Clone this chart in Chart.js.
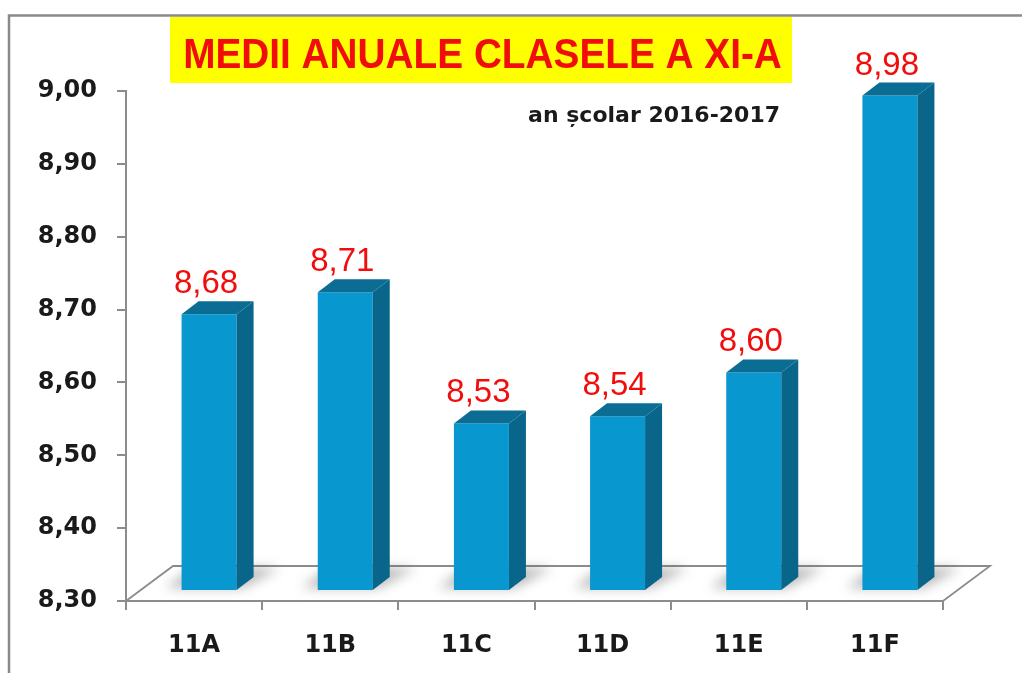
<!DOCTYPE html>
<html>
<head>
<meta charset="utf-8">
<script src="https://cdn.jsdelivr.net/npm/chart.js@4.4.1/dist/chart.umd.min.js"></script>
<style>
  html, body { margin: 0; padding: 0; background: #ffffff; }
  #wrap { width: 1022px; height: 673px; position: relative; }
</style>
</head>
<body>
<div id="wrap"><canvas id="c" width="1022" height="673"></canvas></div>
<script>
// ---- data ----
const categories = ['11A', '11B', '11C', '11D', '11E', '11F'];
const averages = [8.68, 8.71, 8.53, 8.54, 8.60, 8.98];
const yTickValues = [8.30, 8.40, 8.50, 8.60, 8.70, 8.80, 8.90, 9.00];
const titleText = 'MEDII ANUALE CLASELE A XI-A';
const subtitleText = 'an școlar 2016-2017';

// ---- styling ----
const AXIS_GRAY = '#8c8c8c';
const FRONT = '#0898cf';
const SIDE = '#09658a';
const TOP = '#0b6d94';
const DX = 15, DY = -10;     // bar front plane offset from the axis plane
const SX = 17, SY = -13;     // bar depth
const FX = 47, FY = -35;     // floor depth

const fmt = v => Number(v).toFixed(2).replace('.', ',');

const threeD = {
  id: 'threeD',
  beforeDatasetsDraw(chart) {
    const ctx = chart.ctx;
    const a = chart.chartArea;
    const xs = chart.scales.x;
    const left = xs.left, right = xs.right, bottom = a.bottom;
    // floor back edges
    ctx.save();
    ctx.strokeStyle = AXIS_GRAY;
    ctx.lineWidth = 1.8;
    ctx.beginPath();
    ctx.moveTo(left, bottom);
    ctx.lineTo(left + FX, bottom + FY);
    ctx.lineTo(right + FX, bottom + FY);
    ctx.lineTo(right, bottom);
    ctx.stroke();
    ctx.restore();
    // soft shadows under bars
    const meta = chart.getDatasetMeta(0);
    ctx.save();
    ctx.filter = 'blur(6px)';
    ctx.fillStyle = 'rgba(80,80,80,0.4)';
    meta.data.forEach(el => {
      const p = el.getProps(['x', 'y', 'base', 'width'], true);
      const l = p.x - p.width / 2 + DX, r = p.x + p.width / 2 + DX, b = p.base + DY;
      ctx.beginPath();
      ctx.moveTo(l - 16, b - 2);
      ctx.lineTo(r + 6, b - 2);
      ctx.lineTo(r + SX + 26, b + SY - 9);
      ctx.lineTo(l + SX - 6, b + SY - 9);
      ctx.closePath();
      ctx.fill();
    });
    ctx.restore();
    // translate so the library's front faces sit in the bar plane
    ctx.save();
    ctx.translate(DX, DY);
  },
  afterDatasetsDraw(chart) {
    const ctx = chart.ctx;
    ctx.restore();
    const meta = chart.getDatasetMeta(0);
    const vals = chart.data.datasets[0].data;
    meta.data.forEach((el, i) => {
      const p = el.getProps(['x', 'y', 'base', 'width'], true);
      const l = p.x - p.width / 2 + DX, r = p.x + p.width / 2 + DX;
      const t = p.y + DY, b = p.base + DY;
      // side
      ctx.fillStyle = SIDE;
      ctx.beginPath();
      ctx.moveTo(r, t); ctx.lineTo(r + SX, t + SY); ctx.lineTo(r + SX, b + SY); ctx.lineTo(r, b);
      ctx.closePath(); ctx.fill();
      // top
      ctx.fillStyle = TOP;
      ctx.beginPath();
      ctx.moveTo(l, t); ctx.lineTo(l + SX, t + SY); ctx.lineTo(r + SX, t + SY); ctx.lineTo(r, t);
      ctx.closePath(); ctx.fill();
      // value label
      ctx.save();
      ctx.fillStyle = '#f20d0d';
      ctx.font = '33px "Liberation Sans", Arial, sans-serif';
      ctx.textAlign = 'center';
      ctx.textBaseline = 'alphabetic';
      ctx.fillText(fmt(vals[i]), p.x + 12, t - 21);
      ctx.restore();
    });
  },
  afterDraw(chart) {
    const ctx = chart.ctx;
    ctx.save();
    // outer frame
    ctx.strokeStyle = '#8a8a8a';
    ctx.lineWidth = 2.5;
    ctx.strokeRect(9, 15.5, 1100, 1000);
    // title box
    ctx.fillStyle = '#ffff00';
    ctx.fillRect(170, 17, 622, 66);
    ctx.save();
    ctx.translate(482.5, 68);
    ctx.scale(0.923, 1);
    ctx.fillStyle = '#f20d0d';
    ctx.font = 'bold 42px "Liberation Sans", Arial, sans-serif';
    ctx.textAlign = 'center';
    ctx.textBaseline = 'alphabetic';
    ctx.fillText(titleText, 0, 0);
    ctx.restore();
    // subtitle
    ctx.fillStyle = '#1a1a1a';
    ctx.font = 'bold 22px "DejaVu Sans", sans-serif';
    ctx.textAlign = 'right';
    ctx.textBaseline = 'alphabetic';
    ctx.fillText(subtitleText, 780, 122);
    ctx.restore();
  }
};

new Chart(document.getElementById('c'), {
  type: 'bar',
  data: {
    labels: categories,
    datasets: [{
      data: averages,
      base: yTickValues[0],
      backgroundColor: FRONT,
      borderWidth: 0,
      categoryPercentage: 1.0,
      barPercentage: 0.404,
      clip: false
    }]
  },
  options: {
    responsive: false,
    animation: false,
    events: [],
    layout: { padding: { left: 0, right: 79, top: 91, bottom: 0 } },
    plugins: {
      legend: { display: false },
      tooltip: { enabled: false },
      title: { display: false }
    },
    scales: {
      y: {
        min: yTickValues[0],
        max: yTickValues[yTickValues.length - 1],
        afterFit: s => { s.width = 126; },
        afterBuildTicks: s => { s.ticks = yTickValues.map(v => ({ value: v })); },
        ticks: {
          padding: 20,
          color: '#1a1a1a',
          font: { family: '"DejaVu Sans", sans-serif', size: 24, weight: 'bold' },
          callback: v => fmt(v)
        },
        grid: { drawOnChartArea: false, tickLength: 9, color: AXIS_GRAY, lineWidth: 2 },
        border: { display: true, color: AXIS_GRAY, width: 2 }
      },
      x: {
        afterFit: s => { s.height = 72; },
        ticks: {
          padding: 21,
          color: '#1a1a1a',
          font: { family: '"DejaVu Sans", sans-serif', size: 24, weight: 'bold' }
        },
        grid: { drawOnChartArea: false, offset: true, tickLength: 9, color: AXIS_GRAY, lineWidth: 2 },
        border: { display: true, color: AXIS_GRAY, width: 2 }
      }
    }
  },
  plugins: [threeD]
});
</script>
</body>
</html>
